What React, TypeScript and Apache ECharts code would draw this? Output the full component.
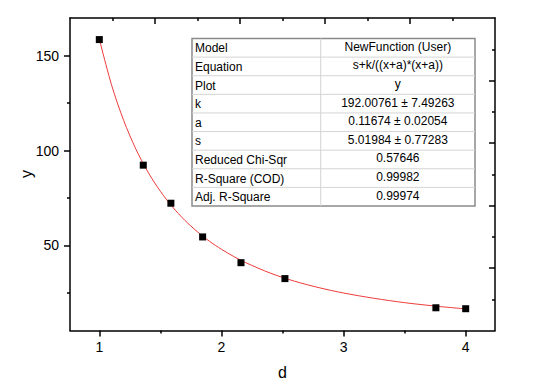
import React, { useEffect, useRef } from "react";
import * as echarts from "echarts";

// measured data points
const pointX = [1.0, 1.36, 1.586, 1.846, 2.16, 2.52, 3.756, 4.0];
const pointY = [158.6, 92.3, 72.2, 54.4, 40.8, 32.4, 17.0, 16.5];

// fitted curve
const curveX = [1.0, 1.1, 1.2, 1.3, 1.4, 1.5, 1.6, 1.7, 1.8, 1.9, 2.0, 2.1, 2.2, 2.4, 2.6, 2.8, 3.0, 3.25, 3.5, 3.75, 4.0];
const curveY = [158.9, 134.7, 115.8, 100.7, 88.5, 78.5, 70.2, 63.2, 57.3, 52.2, 47.9, 44.1, 40.8, 35.3, 31.0, 27.6, 24.8, 22.0, 19.7, 17.9, 16.4];

// ticks
const xMajorTicks = [1, 2, 3, 4];
const xMinorTicks = [1.5, 2.5, 3.5];
const yMajorTicks = [50, 100, 150];
const yMinorTicks = [25, 75, 125];
const oppMajorTicks = [1, 2, 3, 4];
const oppMinorTicks = [0.5, 1.5, 2.5, 3.5, 4.5];

// axis titles
const xTitle = "d";
const yTitle = "y";

// fit table
const tableLabels = ["Model", "Equation", "Plot", "k", "a", "s", "Reduced Chi-Sqr", "R-Square (COD)", "Adj. R-Square"];
const tableValues = [
  "NewFunction (User)",
  "s+k/((x+a)*(x+a))",
  "y",
  "192.00761 ± 7.49263",
  "0.11674 ± 0.02054",
  "5.01984 ± 0.77283",
  "0.57646",
  "0.99982",
  "0.99974",
];

const FONT = "'Liberation Sans', Arial, sans-serif";

export default function App() {
  const ref = useRef<HTMLDivElement>(null);
  useEffect(() => {
    if (!ref.current) return;
    const chart = echarts.init(ref.current, undefined, { renderer: "svg" });

    const axisLine = { show: true, onZero: false, lineStyle: { color: "#000", width: 1.5 } };
    const noLine = { show: false, onZero: false };
    const labelStyle = { color: "#000", fontSize: 14, fontFamily: FONT };

    const xMin = 0.76, xMax = 4.24, yMin = 5, yMax = 170;

    // table graphics
    const tx0 = 192, tx1 = 475, ty0 = 38.5, ty1 = 206, tcol = 320.7;
    const rowH = (ty1 - ty0) / tableLabels.length;
    const graphics: any[] = [];
    graphics.push({
      type: "text",
      x: 26,
      y: 174,
      rotation: Math.PI / 2,
      style: { text: yTitle, fill: "#000", font: `16px ${FONT}`, textAlign: "center", textVerticalAlign: "middle" },
      z: 12,
    });
    graphics.push({
      type: "rect",
      shape: { x: tx0, y: ty0, width: tx1 - tx0, height: ty1 - ty0 },
      style: { fill: "#fff", stroke: "#8a8a8a", lineWidth: 1.5 },
      z: 10,
    });
    for (let i = 1; i < tableLabels.length; i++) {
      const yy = ty0 + i * rowH;
      graphics.push({
        type: "line",
        shape: { x1: tx0, y1: yy, x2: tx1, y2: yy },
        style: { stroke: "#d4d4d4", lineWidth: 1 },
        z: 11,
      });
    }
    graphics.push({
      type: "line",
      shape: { x1: tcol, y1: ty0, x2: tcol, y2: ty1 },
      style: { stroke: "#d4d4d4", lineWidth: 1 },
      z: 11,
    });
    tableLabels.forEach((lab, i) => {
      const cy = ty0 + (i + 0.5) * rowH;
      graphics.push({
        type: "text",
        x: tx0 + 3,
        y: cy + 0.5,
        style: { text: lab, fill: "#000", font: `12px ${FONT}`, textAlign: "left", textVerticalAlign: "middle" },
        z: 12,
      });
      graphics.push({
        type: "text",
        x: (tcol + tx1) / 2,
        y: cy - 1,
        style: { text: tableValues[i], fill: "#000", font: `12px ${FONT}`, textAlign: "center", textVerticalAlign: "middle" },
        z: 12,
      });
    });

    chart.setOption({
      animation: false,
      backgroundColor: "#fff",
      grid: { left: 70, top: 18, width: 425, height: 312.5, containLabel: false },
      xAxis: [
        {
          type: "value", position: "bottom", min: xMin, max: xMax,
          axisLine,
          axisTick: { show: true, inside: false, length: 6, customValues: xMajorTicks, lineStyle: { color: "#000", width: 1.5 } },
          axisLabel: { show: true, customValues: xMajorTicks, margin: 9, ...labelStyle },
          splitLine: { show: false },
          name: xTitle, nameLocation: "middle", nameGap: 34,
          nameTextStyle: { color: "#000", fontSize: 16, fontFamily: FONT },
        },
        {
          type: "value", position: "bottom", min: xMin, max: xMax,
          axisLine: noLine,
          axisTick: { show: true, inside: false, length: 3, customValues: xMinorTicks, lineStyle: { color: "#000", width: 1.5 } },
          axisLabel: { show: false },
          splitLine: { show: false },
        },
        {
          type: "value", position: "top", min: 0, max: 5,
          axisLine,
          axisTick: { show: true, inside: true, length: 6, customValues: oppMajorTicks, lineStyle: { color: "#000", width: 1.5 } },
          axisLabel: { show: false },
          splitLine: { show: false },
        },
        {
          type: "value", position: "top", min: 0, max: 5,
          axisLine: noLine,
          axisTick: { show: true, inside: true, length: 3, customValues: oppMinorTicks, lineStyle: { color: "#000", width: 1.5 } },
          axisLabel: { show: false },
          splitLine: { show: false },
        },
      ],
      yAxis: [
        {
          type: "value", position: "left", min: yMin, max: yMax,
          axisLine,
          axisTick: { show: true, inside: false, length: 6, customValues: yMajorTicks, lineStyle: { color: "#000", width: 1.5 } },
          axisLabel: { show: true, customValues: yMajorTicks, margin: 11, ...labelStyle },
          splitLine: { show: false },
        },
        {
          type: "value", position: "left", min: yMin, max: yMax,
          axisLine: noLine,
          axisTick: { show: true, inside: false, length: 3, customValues: yMinorTicks, lineStyle: { color: "#000", width: 1.5 } },
          axisLabel: { show: false },
          splitLine: { show: false },
        },
        {
          type: "value", position: "right", min: 0, max: 5,
          axisLine,
          axisTick: { show: true, inside: true, length: 6, customValues: oppMajorTicks, lineStyle: { color: "#000", width: 1.5 } },
          axisLabel: { show: false },
          splitLine: { show: false },
        },
        {
          type: "value", position: "right", min: 0, max: 5,
          axisLine: noLine,
          axisTick: { show: true, inside: true, length: 3, customValues: oppMinorTicks, lineStyle: { color: "#000", width: 1.5 } },
          axisLabel: { show: false },
          splitLine: { show: false },
        },
      ],
      series: [
        {
          type: "line",
          xAxisIndex: 0, yAxisIndex: 0,
          data: curveX.map((x, i) => [x, curveY[i]]),
          smooth: 0.3,
          showSymbol: false,
          symbol: "none",
          lineStyle: { color: "#ee3a3a", width: 1 },
          z: 2,
        },
        {
          type: "scatter",
          xAxisIndex: 0, yAxisIndex: 0,
          data: pointX.map((x, i) => [x, pointY[i]]),
          symbol: "rect",
          symbolSize: 7,
          itemStyle: { color: "#000", opacity: 1 },
          z: 3,
        },
      ],
      graphic: graphics,
    });
    return () => chart.dispose();
  }, []);
  return (
    <div
      ref={ref}
      style={{ position: "fixed", left: 0, top: 0, width: 554, height: 387, background: "#fff" }}
    />
  );
}
